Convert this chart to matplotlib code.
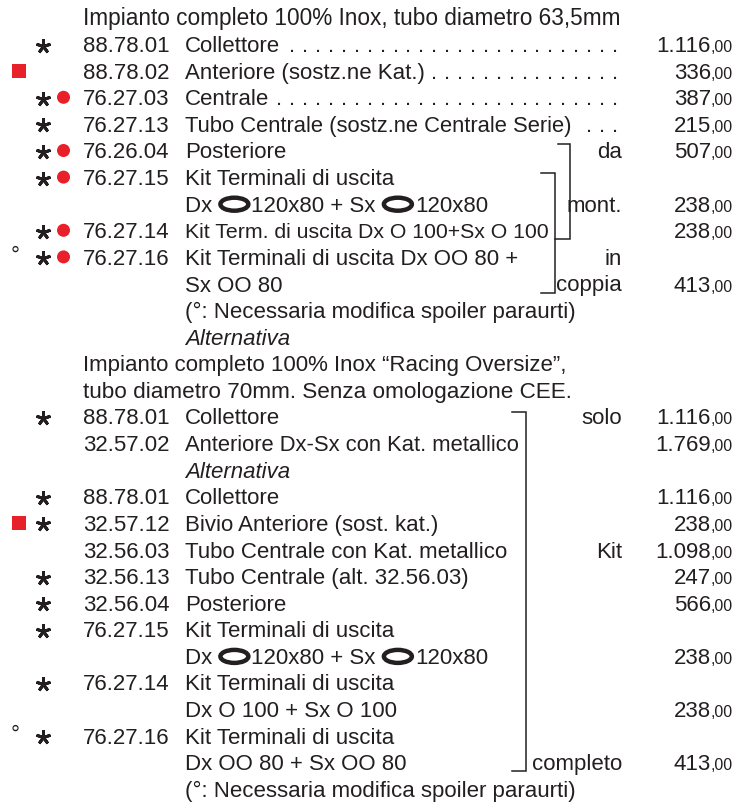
"""
listino scarichi - pagina catalogo
"""

import matplotlib
matplotlib.use("Agg")
import matplotlib.pyplot as plt
from matplotlib.patches import Ellipse, Rectangle, Circle

# ---- dati (una voce per riga) ----
row_marks = ["", "*", "s", "*o", "*", "*o", "*o", "", "*o", "d*o", "", "", "", "", "",
             "*", "", "", "*", "s*", "", "*", "*", "*", "", "*", "", "d*", "", ""]
row_codes = ["", "88.78.01", "88.78.02", "76.27.03", "76.27.13", "76.26.04", "76.27.15", "",
             "76.27.14", "76.27.16", "", "", "", "", "",
             "88.78.01", "32.57.02", "", "88.78.01", "32.57.12", "32.56.03", "32.56.13",
             "32.56.04", "76.27.15", "", "76.27.14", "", "76.27.16", "", ""]
row_texts = ["Impianto completo 100% Inox, tubo diametro 63,5mm",
             "Collettore",
             "Anteriore (sostz.ne Kat.)",
             "Centrale",
             "Tubo Centrale (sostz.ne Centrale Serie)",
             "Posteriore",
             "Kit Terminali di uscita",
             "Dx ⬭120x80 + Sx ⬭120x80",
             "Kit Term. di uscita Dx O 100+Sx O 100",
             "Kit Terminali di uscita Dx OO 80 +",
             "Sx OO 80",
             "(°: Necessaria modifica spoiler paraurti)",
             "Alternativa",
             "Impianto completo 100% Inox “Racing Oversize”,",
             "tubo diametro 70mm. Senza omologazione CEE.",
             "Collettore",
             "Anteriore Dx-Sx con Kat. metallico",
             "Alternativa",
             "Collettore",
             "Bivio Anteriore (sost. kat.)",
             "Tubo Centrale con Kat. metallico",
             "Tubo Centrale (alt. 32.56.03)",
             "Posteriore",
             "Kit Terminali di uscita",
             "Dx ⬭120x80 + Sx ⬭120x80",
             "Kit Terminali di uscita",
             "Dx O 100 + Sx O 100",
             "Kit Terminali di uscita",
             "Dx OO 80 + Sx OO 80",
             "(°: Necessaria modifica spoiler paraurti)"]
header_rows = [0, 13, 14]
italic_rows = [12, 17]
leader_rows = [1, 2, 3, 4]
row_tags = {5: "da", 7: "mont.", 9: "in", 10: "coppia",
            15: "solo", 20: "Kit", 28: "completo"}
row_prices = {1: 1116, 2: 336, 3: 387, 4: 215, 5: 507, 7: 238, 8: 238, 10: 413,
              15: 1116, 16: 1769, 18: 1116, 19: 238, 20: 1098, 21: 247, 22: 566,
              24: 238, 26: 238, 28: 413}
# graffe: (riga inizio, riga fine)
brackets = [(5, 8), (6, 10), (15, 28)]

# ---- stile ----
INK = "#231f20"
RED = "#e8202a"
FONT = "Liberation Sans"
FS = 16
FS_SMALL = 11.5
ROW_FS = {0: 16.3, 4: 15.8, 8: 15.3, 14: 16.2, 16: 15.8}
Y0, DY = 17.5, 26.6
X_CODE, X_DESC, X_TAG, X_PRICE, X_LEAD = 83, 185, 622, 733, 618
BR_X = [(558, 570, 555), (541, 555, 541), (512, 526, 512)]  # (x sup, x vert, x inf)
BR_TOP = [6.5, 4.5, 4.5]

fig = plt.figure(figsize=(7.41, 8.02), dpi=100)
ax = fig.add_axes([0, 0, 1, 1])
ax.set_xlim(0, 741)
ax.set_ylim(802, 0)
ax.axis("off")
fig.canvas.draw()
renderer = fig.canvas.get_renderer()


def width(t):
    return t.get_window_extent(renderer).width


def base(i):
    return Y0 + i * DY + 8


def center(i):
    return Y0 + i * DY


def draw_line(x, y, s, fs=FS, style="normal"):
    parts = s.split("⬭")
    for k, p in enumerate(parts):
        if p:
            t = ax.text(x, y, p, fontsize=fs, family=FONT, color=INK,
                        style=style, va="baseline", ha="left")
            x += width(t)
        if k < len(parts) - 1:
            ax.add_patch(Ellipse((x + 16, y - 7.5), 28, 13, fill=False,
                                 ec=INK, lw=3.2))
            x += 33
    return x


for i in range(len(row_texts)):
    yb = base(i)
    yc = center(i)
    fs = ROW_FS.get(i, FS)
    if i in header_rows:
        draw_line(X_CODE, yb, row_texts[i], fs)
        continue
    if row_codes[i]:
        ax.text(X_CODE, yb, row_codes[i], fontsize=FS, family=FONT, color=INK,
                va="baseline", ha="left")
    end = draw_line(X_DESC, yb, row_texts[i], fs,
                    style="italic" if i in italic_rows else "normal")

    m = row_marks[i]
    if "*" in m:
        ax.plot(43, yc + 1.5, marker=(5, 2, 0), ms=10.5, mew=2.1, color=INK)
    if "o" in m:
        ax.add_patch(Circle((63.5, yc), 6.5, color=RED, lw=0))
    if "s" in m:
        ax.add_patch(Rectangle((12, yc - 6.5), 13.5, 13.5, color=RED, lw=0))
    if "d" in m:
        ax.text(15, yc - 1, "°", fontsize=FS, family=FONT, color=INK,
                va="center", ha="center")

    if i in leader_rows:
        xd = X_LEAD
        while xd > end + 8:
            ax.text(xd, yb, ".", fontsize=FS, family=FONT, color=INK,
                    va="baseline", ha="right")
            xd -= 12.9

    if i in row_tags:
        ax.text(X_TAG, yb, row_tags[i], fontsize=FS, family=FONT, color=INK,
                va="baseline", ha="right")

    if i in row_prices:
        v = row_prices[i]
        main = f"{v:,}".replace(",", ".")
        tc = ax.text(X_PRICE, yb, ",00", fontsize=FS_SMALL, family=FONT, color=INK,
                     va="baseline", ha="right")
        ax.text(X_PRICE - width(tc), yb, main, fontsize=FS, family=FONT, color=INK,
                va="baseline", ha="right")

for (r0, r1), (xa, xv, xb), dt in zip(brackets, BR_X, BR_TOP):
    ya = center(r0) - dt
    yz = center(r1) + 9
    ax.plot([xa, xv, xv, xb], [ya, ya, yz, yz], color=INK, lw=1.1,
            solid_joinstyle="miter")

fig.savefig("out.png", dpi=100)
